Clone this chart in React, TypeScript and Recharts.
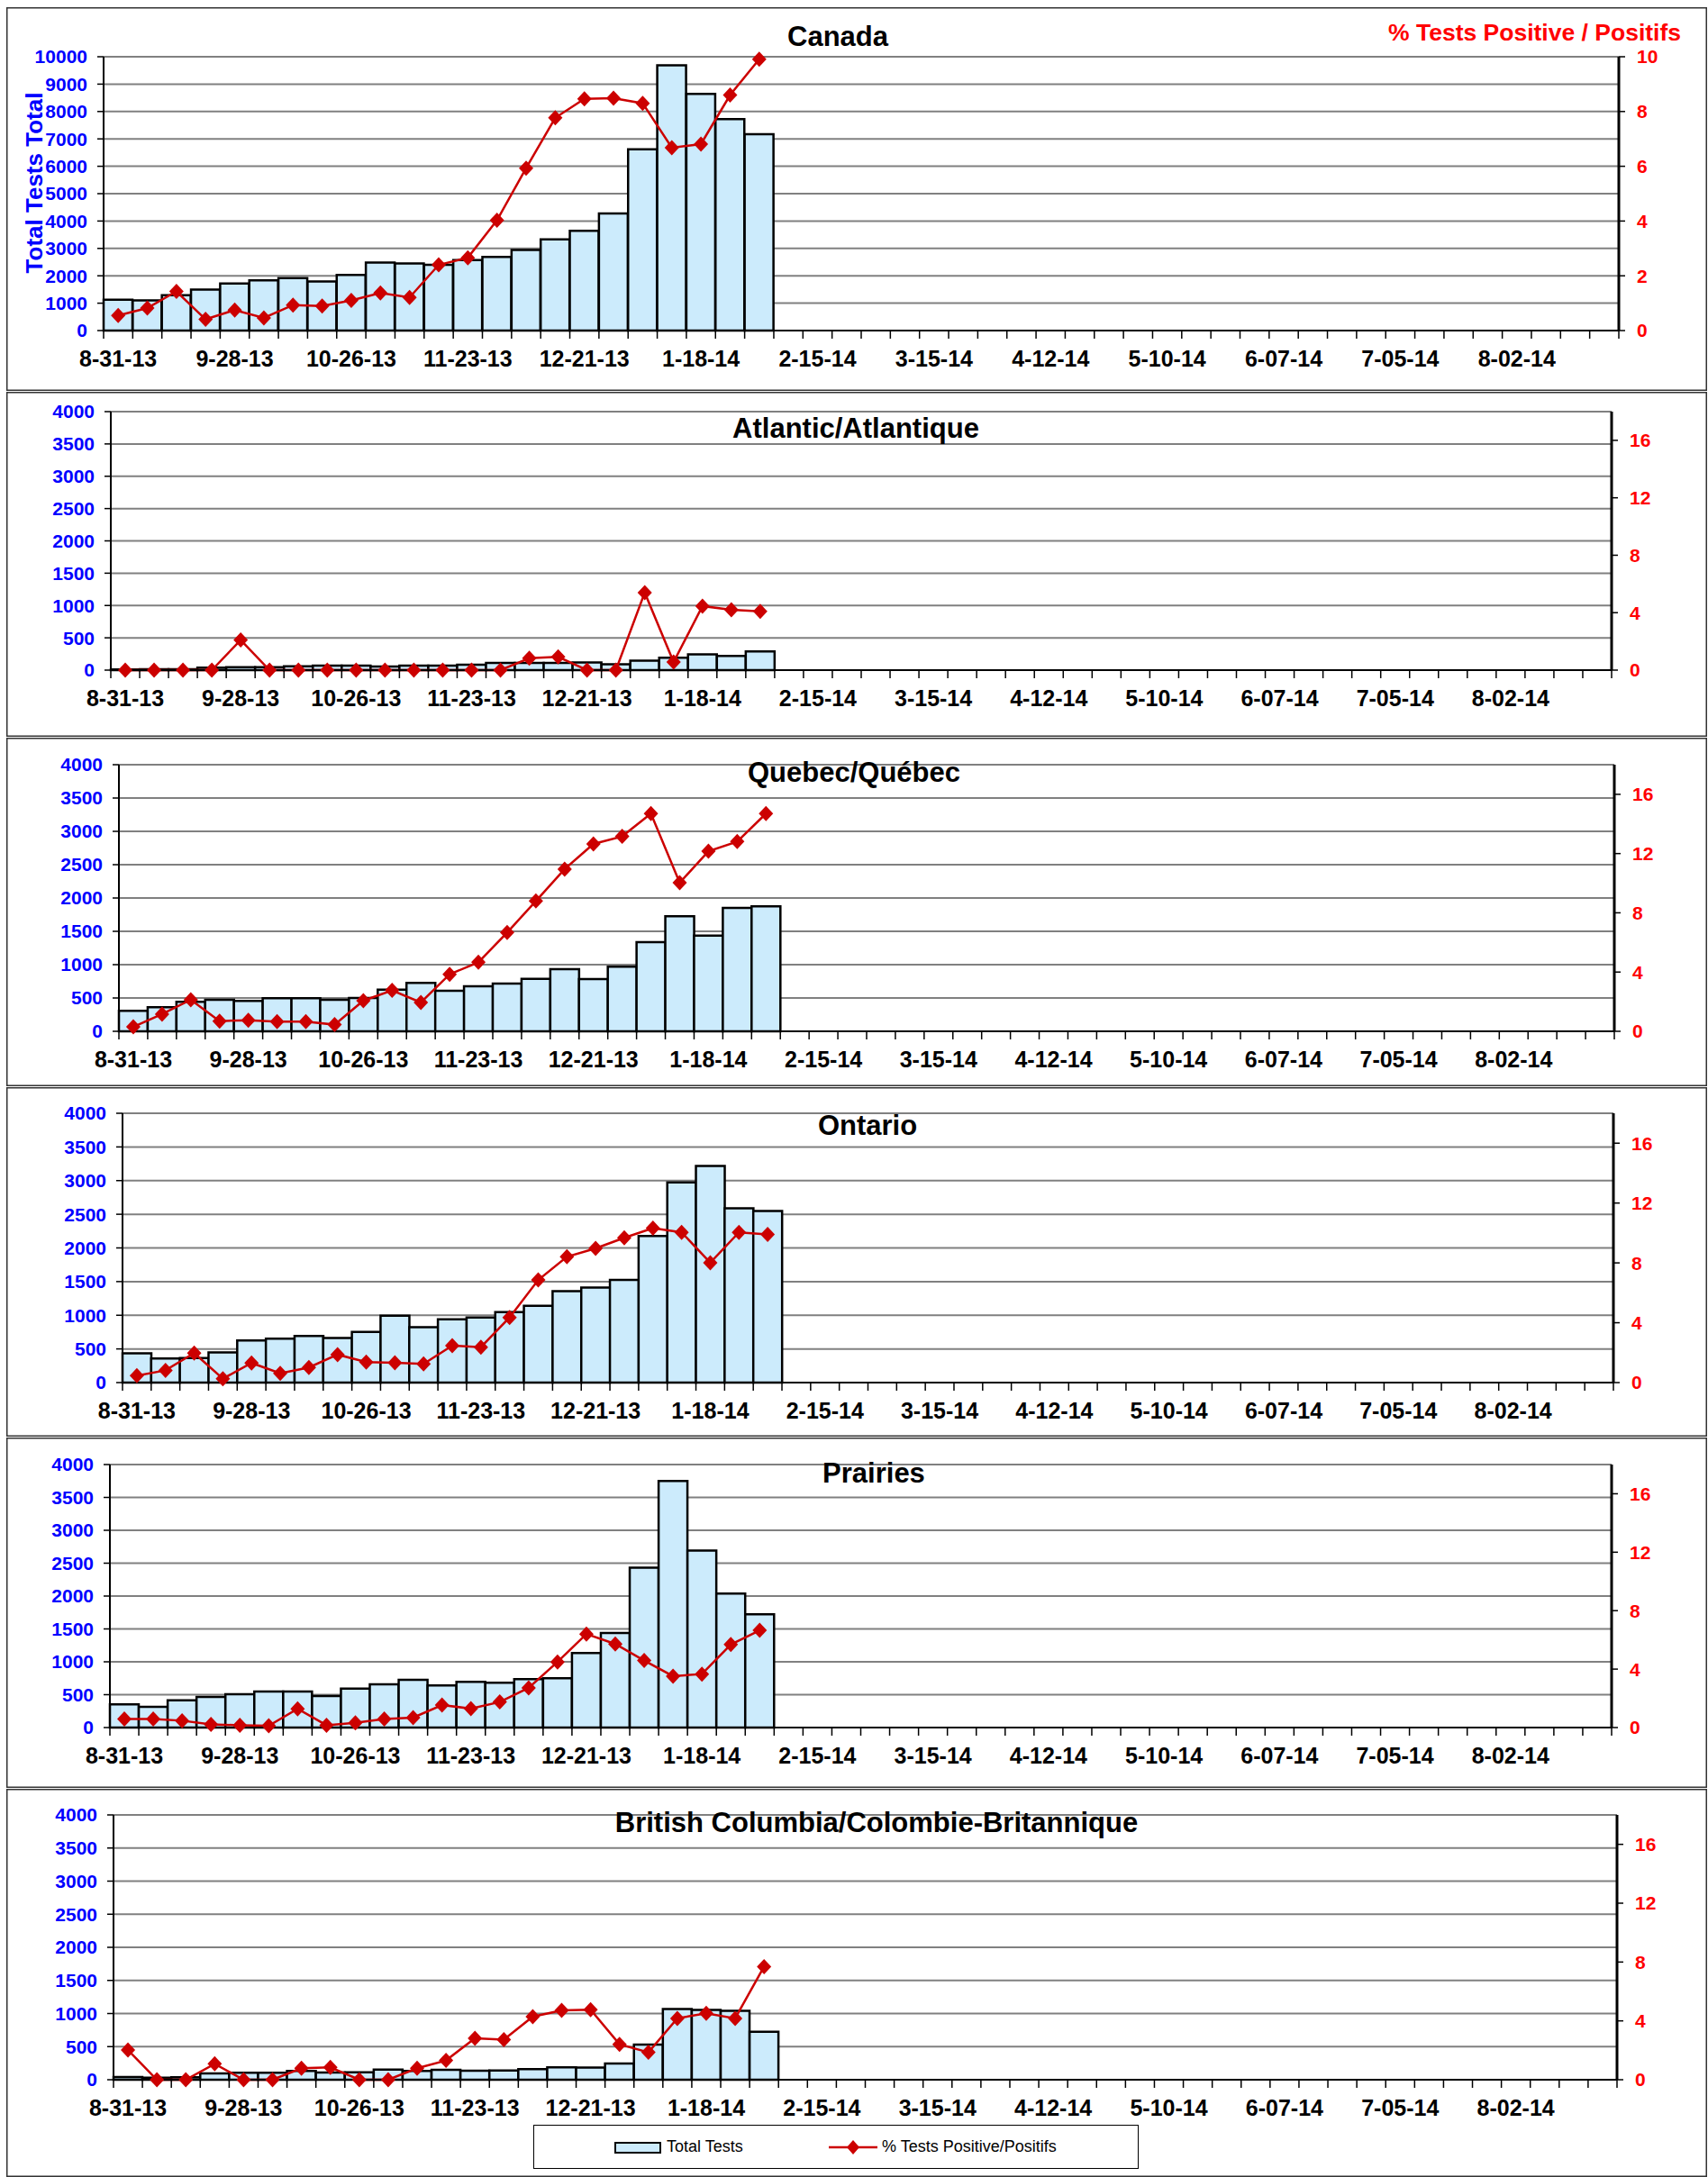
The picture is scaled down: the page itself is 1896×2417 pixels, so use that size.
import React from 'react';
import { ComposedChart, Bar, Line, XAxis, YAxis, CartesianGrid } from 'recharts';

// weekly reporting periods, 52 weeks
const weeks = [
	'8-31-13', '9-07-13', '9-14-13', '9-21-13', '9-28-13', '10-05-13', '10-12-13', '10-19-13', '10-26-13',
	'11-02-13', '11-09-13', '11-16-13', '11-23-13', '11-30-13', '12-07-13', '12-14-13', '12-21-13', '12-28-13',
	'1-04-14', '1-11-14', '1-18-14', '1-25-14', '2-01-14', '2-08-14', '2-15-14', '2-22-14', '3-01-14', '3-08-14',
	'3-15-14', '3-22-14', '3-29-14', '4-05-14', '4-12-14', '4-19-14', '4-26-14', '5-03-14', '5-10-14', '5-17-14',
	'5-24-14', '5-31-14', '6-07-14', '6-14-14', '6-21-14', '6-28-14', '7-05-14', '7-12-14', '7-19-14', '7-26-14',
	'8-02-14', '8-09-14', '8-16-14', '8-23-14',
];

const canadaTests = [1130, 1100, 1290, 1500, 1720, 1830, 1920, 1790, 2030, 2480, 2450, 2400, 2570, 2690, 2940, 3330, 3640, 4280, 6620, 9690, 8640, 7720, 7170];
const canadaPos = [0.55, 0.82, 1.43, 0.41, 0.75, 0.46, 0.93, 0.9, 1.1, 1.37, 1.21, 2.4, 2.66, 4.03, 5.93, 7.77, 8.46, 8.49, 8.3, 6.68, 6.81, 8.6, 9.91];

const atlanticTests = [10, 15, 15, 40, 45, 45, 60, 70, 70, 55, 70, 70, 85, 110, 110, 110, 120, 90, 145, 190, 245, 218, 290];
const atlanticPos = [0, 0, 0, 0, 2.1, 0, 0, 0, 0, 0, 0, 0, 0, 0, 0.83, 0.92, 0, 0, 5.4, 0.56, 4.46, 4.2, 4.1];

const quebecTests = [306, 360, 441, 473, 455, 495, 495, 473, 500, 626, 725, 608, 676, 716, 788, 932, 784, 968, 1338, 1725, 1437, 1851, 1874];
const quebecPos = [0.3, 1.16, 2.13, 0.69, 0.75, 0.65, 0.65, 0.45, 2.07, 2.76, 1.95, 3.85, 4.66, 6.67, 8.8, 10.95, 12.65, 13.16, 14.7, 10.03, 12.16, 12.81, 14.7];

const ontarioTests = [434, 358, 366, 447, 626, 653, 693, 661, 751, 992, 822, 939, 965, 1046, 1140, 1359, 1412, 1524, 2177, 2972, 3218, 2588, 2547];
const ontarioPos = [0.46, 0.82, 1.97, 0.26, 1.31, 0.62, 1.01, 1.87, 1.37, 1.33, 1.25, 2.47, 2.37, 4.35, 6.86, 8.41, 8.97, 9.68, 10.32, 10.04, 8.01, 10.04, 9.9];

const prairiesTests = [352, 315, 416, 466, 507, 549, 549, 480, 594, 658, 727, 640, 695, 681, 736, 750, 1134, 1440, 2432, 3749, 2693, 2039, 1723];
const prairiesPos = [0.58, 0.58, 0.47, 0.21, 0.16, 0.12, 1.28, 0.16, 0.33, 0.58, 0.68, 1.54, 1.3, 1.75, 2.72, 4.49, 6.4, 5.72, 4.59, 3.52, 3.66, 5.68, 6.65];

const bcTests = [41, 32, 36, 95, 104, 104, 132, 109, 113, 154, 132, 150, 136, 141, 159, 186, 182, 245, 531, 1067, 1053, 1040, 726];
const bcPos = [2.02, 0, 0, 1.08, 0, 0, 0.78, 0.84, 0, 0, 0.78, 1.31, 2.82, 2.72, 4.29, 4.72, 4.76, 2.41, 1.86, 4.17, 4.52, 4.17, 7.69];

const canadaLeftTicks = [0, 1000, 2000, 3000, 4000, 5000, 6000, 7000, 8000, 9000, 10000];
const canadaRightTicks = [0, 2, 4, 6, 8, 10];
const regionLeftTicks = [0, 500, 1000, 1500, 2000, 2500, 3000, 3500, 4000];
const regionRightTicks = [0, 4, 8, 12, 16];

const FONT = '"Liberation Sans", Arial, sans-serif';
const BAR_FILL = '#CCEBFC';
const LINE_RED = '#CC0000';
const PANEL_W = 1888;
const PANEL_X = 7;

const Diamond = (props: any) => {
	const { cx, cy, index } = props;
	if (cx == null || cy == null) return <g key={`d-${index}`} />;
	return <path key={`d-${index}`} d={`M${cx},${cy - 8.5}L${cx + 8},${cy}L${cx},${cy + 8.5}L${cx - 8},${cy}Z`} fill={LINE_RED} />;
};

const WeekTick = (props: any) => {
	const { x, y, payload, bw } = props;
	const i = props.index ?? payload.index;
	return (
		<g>
			<line x1={x - bw / 2} x2={x - bw / 2} y1={y} y2={y + 9} stroke="#000" strokeWidth={1.5} />
			{i === weeks.length - 1 && <line x1={x + bw / 2} x2={x + bw / 2} y1={y} y2={y + 9} stroke="#000" strokeWidth={1.5} />}
			{i % 4 === 0 && (
				<text x={x} y={y + 40} textAnchor="middle" fontFamily={FONT} fontWeight="bold" fontSize={25} fill="#000">
					{payload.value}
				</text>
			)}
		</g>
	);
};

const Panel: React.FC<{
	title: string; tests: number[]; pos: number[]; top: number; height: number; mTop: number; xH: number;
	leftW: number; rightW: number; leftMax: number; leftTicks: number[]; rightMax: number; rightTicks: number[];
	titleX: number; titleY: number; children?: React.ReactNode;
}> = (p) => {
	const data = weeks.map((w, i) => ({ week: w, tests: p.tests[i] ?? null, pos: p.pos[i] ?? null }));
	const bw = (PANEL_W - p.leftW - p.rightW) / weeks.length;
	return (
		<div style={{ position: 'absolute', left: PANEL_X, top: p.top, width: PANEL_W, height: p.height, boxShadow: 'inset 0 0 0 1.5px #333' }}>
			<ComposedChart width={PANEL_W} height={p.height} data={data} barCategoryGap={0} margin={{ top: p.mTop, right: 0, bottom: 0, left: 0 }}>
				<CartesianGrid yAxisId="left" vertical={false} stroke="#808080" strokeWidth={2} />
				<XAxis dataKey="week" interval={0} height={p.xH} tickSize={0} tickMargin={0} tickLine={false}
					axisLine={{ stroke: '#000', strokeWidth: 2 }} tick={<WeekTick bw={bw} />} />
				<YAxis yAxisId="left" orientation="left" width={p.leftW} domain={[0, p.leftMax]} ticks={p.leftTicks} interval={0}
					axisLine={{ stroke: '#000', strokeWidth: 2 }} tickLine={{ stroke: '#000', strokeWidth: 1.5 }} tickSize={7} tickMargin={11}
					tick={{ fill: '#0000FF', fontSize: 21, fontWeight: 'bold', fontFamily: FONT }} />
				<YAxis yAxisId="right" orientation="right" width={p.rightW} domain={[0, p.rightMax]} ticks={p.rightTicks} interval={0}
					axisLine={{ stroke: '#000', strokeWidth: 3 }} tickLine={{ stroke: '#000', strokeWidth: 1.5 }} tickSize={7} tickMargin={13}
					tick={{ fill: '#FF0000', fontSize: 21, fontWeight: 'bold', fontFamily: FONT }} />
				<Bar yAxisId="left" dataKey="tests" fill={BAR_FILL} stroke="#000" strokeWidth={2.5} isAnimationActive={false} />
				<Line yAxisId="right" dataKey="pos" stroke={LINE_RED} strokeWidth={2.5} dot={Diamond} activeDot={false} isAnimationActive={false} />
			</ComposedChart>
			<div style={{ position: 'absolute', left: p.titleX - PANEL_X - 400, width: 800, top: p.titleY - p.top - 29, textAlign: 'center',
				fontFamily: FONT, fontWeight: 'bold', fontSize: 31, lineHeight: '36px', color: '#000' }}>{p.title}</div>
			{p.children}
		</div>
	);
};

export default function App() {
	return (
		<div style={{ position: 'absolute', left: 0, top: 0, width: 1896, height: 2417, background: '#fff', fontFamily: FONT }}>
			<Panel title="Canada" tests={canadaTests} pos={canadaPos} top={8} height={426} mTop={55} xH={67} leftW={108} rightW={98}
				leftMax={10000} leftTicks={canadaLeftTicks} rightMax={10} rightTicks={canadaRightTicks} titleX={930} titleY={52}>
				<div style={{ position: 'absolute', right: 29, top: 13, fontFamily: FONT, fontWeight: 'bold', fontSize: 26.5, color: '#FF0000', whiteSpace: 'nowrap' }}>
					% Tests Positive / Positifs
				</div>
				<div style={{ position: 'absolute', left: 31 - 105, top: 195 - 15, width: 210, textAlign: 'center', transform: 'rotate(-90deg)',
					fontFamily: FONT, fontWeight: 'bold', fontSize: 26, lineHeight: '30px', color: '#0000FF', whiteSpace: 'nowrap' }}>
					Total Tests Total
				</div>
			</Panel>
			<Panel title="Atlantic/Atlantique" tests={atlanticTests} pos={atlanticPos} top={435} height={383} mTop={22} xH={74} leftW={116} rightW={106}
				leftMax={4000} leftTicks={regionLeftTicks} rightMax={18} rightTicks={regionRightTicks} titleX={950} titleY={487} />
			<Panel title="Quebec/Québec" tests={quebecTests} pos={quebecPos} top={819} height={387} mTop={30} xH={61} leftW={125} rightW={103}
				leftMax={4000} leftTicks={regionLeftTicks} rightMax={18} rightTicks={regionRightTicks} titleX={948} titleY={869} />
			<Panel title="Ontario" tests={ontarioTests} pos={ontarioPos} top={1207} height={388} mTop={29} xH={60} leftW={129} rightW={104}
				leftMax={4000} leftTicks={regionLeftTicks} rightMax={18} rightTicks={regionRightTicks} titleX={963} titleY={1261} />
			<Panel title="Prairies" tests={prairiesTests} pos={prairiesPos} top={1596} height={389} mTop={30} xH={67} leftW={115} rightW={106}
				leftMax={4000} leftTicks={regionLeftTicks} rightMax={18} rightTicks={regionRightTicks} titleX={970} titleY={1647} />
			<Panel title="British Columbia/Colombie-Britannique" tests={bcTests} pos={bcPos} top={1986} height={431} mTop={29} xH={108} leftW={119} rightW={100}
				leftMax={4000} leftTicks={regionLeftTicks} rightMax={18} rightTicks={regionRightTicks} titleX={973} titleY={2035}>
				<div style={{ position: 'absolute', left: 592 - PANEL_X, top: 2359 - 1986, width: 672, height: 49, border: '1.5px solid #000',
					boxSizing: 'border-box', background: '#fff', fontFamily: FONT, fontSize: 18, color: '#000' }}>
					<svg width={52} height={14} style={{ position: 'absolute', left: 89, top: 18 }}>
						<rect x={1} y={1} width={50} height={11} fill={BAR_FILL} stroke="#000" strokeWidth={2} />
					</svg>
					<span style={{ position: 'absolute', left: 147, top: 13 }}>Total Tests</span>
					<svg width={54} height={18} style={{ position: 'absolute', left: 327, top: 15 }}>
						<line x1={0} x2={54} y1={9} y2={9} stroke={LINE_RED} strokeWidth={2.5} />
						<path d="M27,1L34,9L27,17L20,9Z" fill={LINE_RED} />
					</svg>
					<span style={{ position: 'absolute', left: 386, top: 13 }}>% Tests Positive/Positifs</span>
				</div>
			</Panel>
		</div>
	);
}
